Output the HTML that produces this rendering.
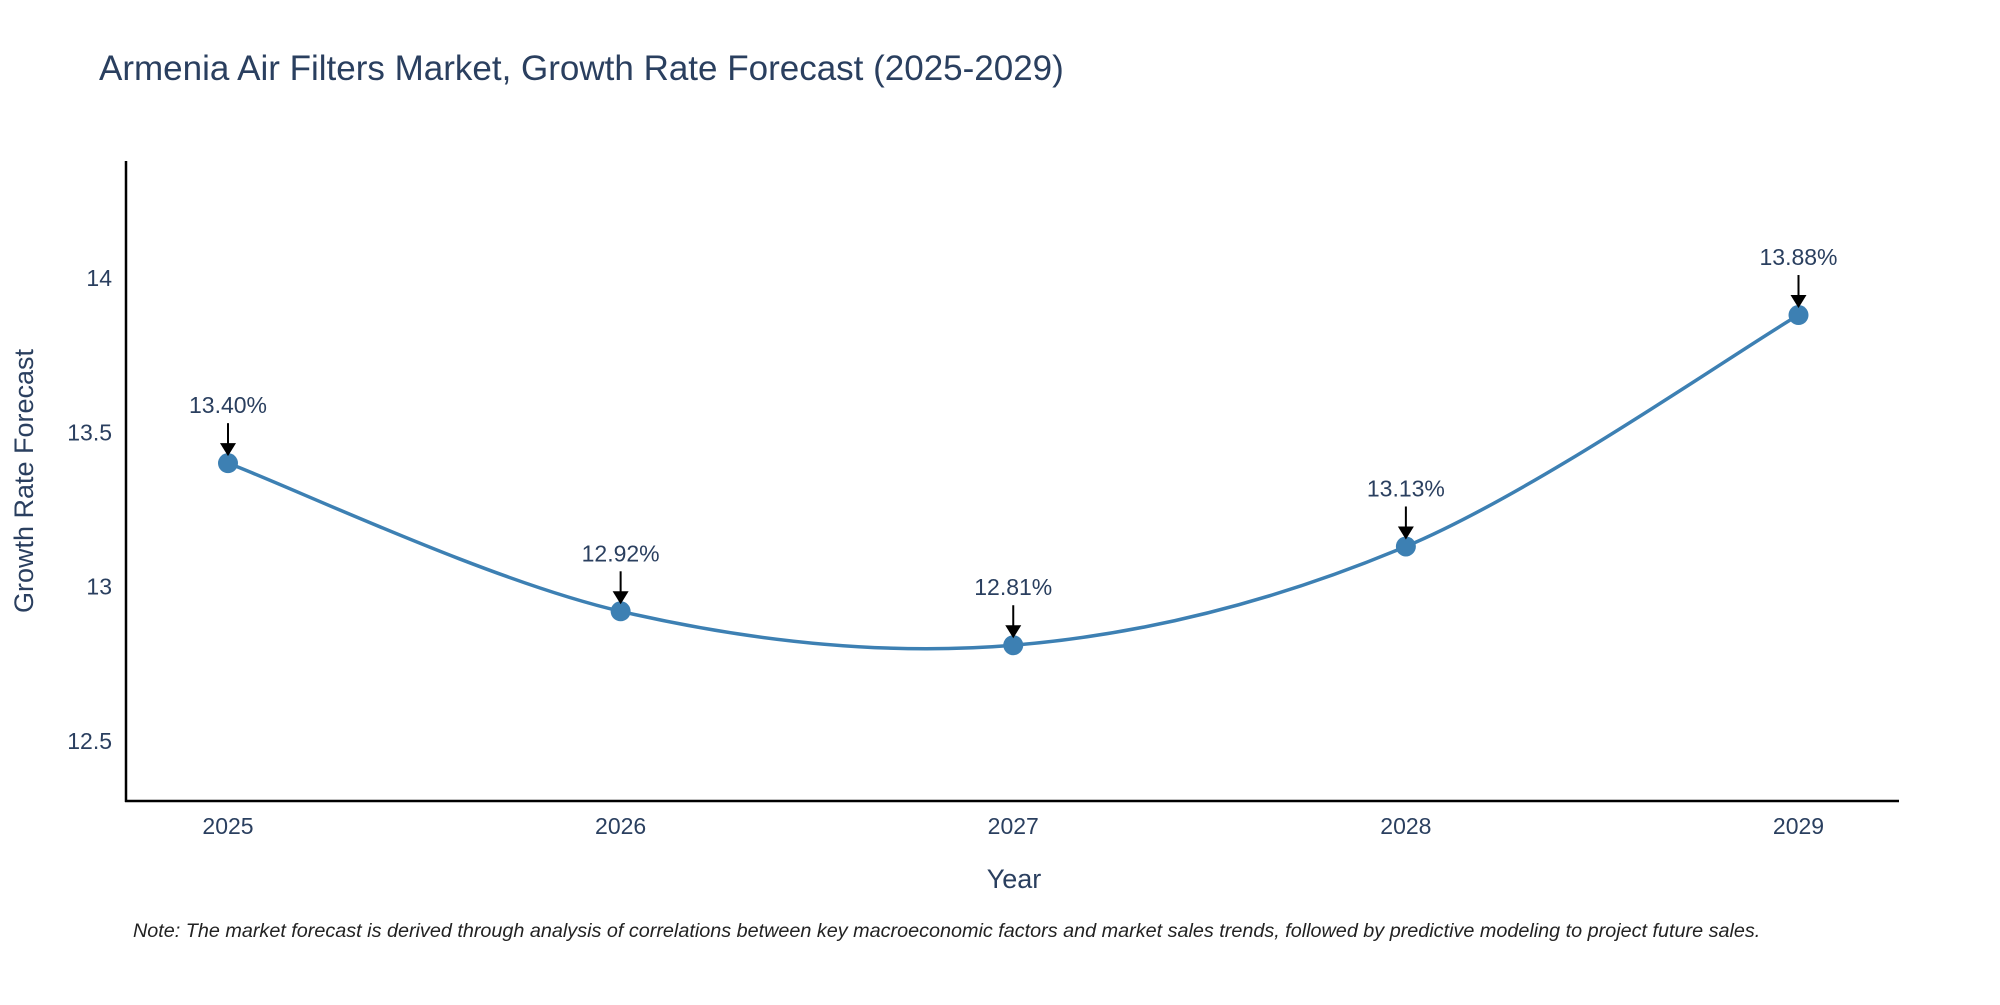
<!DOCTYPE html>
<html><head><meta charset="utf-8">
<style>
body{margin:0;background:#fff;}
svg text{font-family:"Liberation Sans",sans-serif;}
</style></head>
<body>
<svg id="chart" width="2000" height="1000" xmlns="http://www.w3.org/2000/svg">
<text x="99" y="80" font-size="35" fill="#2a3f5f">Armenia Air Filters Market, Growth Rate Forecast (2025-2029)</text>
<g id="yticks"></g>
<g id="xticks"></g>
<line x1="126" y1="161" x2="126" y2="802" stroke="#000" stroke-width="2.5"/>
<line x1="125" y1="801" x2="1899" y2="801" stroke="#000" stroke-width="2.5"/>
<path id="line" fill="none" stroke="#3d80b3" stroke-width="3.5"/>
<g id="marks"></g>
<text x="1014" y="888" font-size="27" fill="#2a3f5f" text-anchor="middle">Year</text>
<text transform="translate(33,481) rotate(-90)" font-size="27" fill="#2a3f5f" text-anchor="middle">Growth Rate Forecast</text>
<text x="133" y="937" font-size="19.8" font-style="italic" fill="#222">Note: The market forecast is derived through analysis of correlations between key macroeconomic factors and market sales trends, followed by predictive modeling to project future sales.</text>
</svg>
<script>
const years = [2025, 2026, 2027, 2028, 2029];
const values = [13.40, 12.92, 12.81, 13.13, 13.88];
const labels = ["13.40%", "12.92%", "12.81%", "13.13%", "13.88%"];
const yTicks = [12.5, 13, 13.5, 14];

const NS = "http://www.w3.org/2000/svg";
const xs = v => 228 + (v - 2025) * (1798.5 - 228) / 4;
const ys = v => 278 + (14 - v) * (154.3 / 0.5);
function mk(tag, attrs, parent) {
  const e = document.createElementNS(NS, tag);
  for (const k in attrs) e.setAttribute(k, attrs[k]);
  parent.appendChild(e);
  return e;
}
const yg = document.getElementById('yticks');
yTicks.forEach(t => {
  const e = mk('text', {x: 112, y: ys(t) + 8, 'font-size': 23, fill: '#2a3f5f', 'text-anchor': 'end'}, yg);
  
  
  e.textContent = String(t);
});
const xg = document.getElementById('xticks');
years.forEach(y => {
  const e = mk('text', {x: xs(y), y: 834, 'font-size': 23, fill: '#2a3f5f', 'text-anchor': 'middle'}, xg);
  
  
  e.textContent = String(y);
});
const pts = years.map((y, i) => [xs(y), ys(values[i])]);
let d = `M${pts[0][0]},${pts[0][1]}`;
const tension = 1/6;
for (let i = 0; i < pts.length - 1; i++) {
  const p0 = pts[Math.max(0, i - 1)], p1 = pts[i], p2 = pts[i + 1], p3 = pts[Math.min(pts.length - 1, i + 2)];
  const c1 = [p1[0] + (p2[0] - p0[0]) * tension, p1[1] + (p2[1] - p0[1]) * tension];
  const c2 = [p2[0] - (p3[0] - p1[0]) * tension, p2[1] - (p3[1] - p1[1]) * tension];
  d += ` C${c1[0]},${c1[1]} ${c2[0]},${c2[1]} ${p2[0]},${p2[1]}`;
}
document.getElementById('line').setAttribute('d', d);
const mg = document.getElementById('marks');
pts.forEach((p, i) => {
  const c = mk('circle', {cx: p[0], cy: p[1], r: 10, fill: '#3d80b3'}, mg);
  
  
  const a = mk('line', {x1: p[0], y1: p[1] - 40, x2: p[0], y2: p[1] - 18, stroke: '#000', 'stroke-width': 2}, mg);
  
  
  const h = mk('polygon', {points: `${p[0]-8},${p[1]-20} ${p[0]+8},${p[1]-20} ${p[0]},${p[1]-7}`, fill: '#000'}, mg);
  
  
  const t = mk('text', {x: p[0], y: p[1] - 50, 'font-size': 23, fill: '#2a3f5f', 'text-anchor': 'middle'}, mg);
  
  
  t.textContent = labels[i];
});
</script>
</body></html>
